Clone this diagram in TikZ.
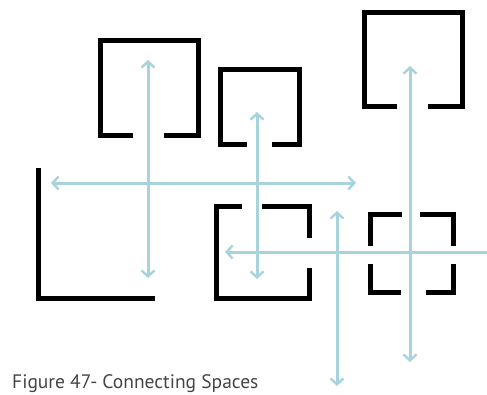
\documentclass[tikz,border=0pt]{standalone}
\usepackage{fontspec}
\setsansfont{PT Sans}
\usetikzlibrary{arrows.meta}
\definecolor{linkblue}{HTML}{A9D3DC}
\definecolor{captiongray}{HTML}{454545}
\tikzset{
  wall/.style={line width=5pt, black, line cap=butt, line join=miter},
  link/.style={line width=3pt, linkblue, line cap=butt},
  biarrow/.style={link, {Straight Barb[length=6pt,width=13pt,line width=2.4pt]}-{Straight Barb[length=6pt,width=13pt,line width=2.4pt]}},
  onearrow/.style={link, {Straight Barb[length=6pt,width=13pt,line width=2.4pt]}-},
}
\begin{document}
\begin{tikzpicture}[x=1pt,y=-1pt]
\useasboundingbox (0,0) rectangle (487,394);

% open rooms
\draw[wall] (133,135) -- (100,135) -- (100,40) -- (198,40) -- (198,135) -- (164,135);
\draw[wall] (247,144) -- (220,144) -- (220,69) -- (299,69) -- (299,144) -- (272,144);
\draw[wall] (397,106) -- (364,106) -- (364,12) -- (462,12) -- (462,106) -- (428,106);

% corner wall
\draw[wall] (38,168) -- (38,298) -- (155,298);

% room with two openings
\draw[wall] (242,206) -- (216,206) -- (216,298) -- (309,298) -- (309,268);
\draw[wall] (262,206) -- (309,206) -- (309,238);

% room of four corners
\draw[wall] (370,246) -- (370,214) -- (402,214);
\draw[wall] (420,214) -- (453,214) -- (453,246);
\draw[wall] (370,264) -- (370,292) -- (401,292);
\draw[wall] (426,292) -- (453,292) -- (453,264);

% connections
\coordinate (a1) at (148,60);  \coordinate (a2) at (148,278);
\coordinate (b1) at (51,183);  \coordinate (b2) at (356,183);
\coordinate (c1) at (257,112); \coordinate (c2) at (257,279);
\coordinate (d1) at (410,66);  \coordinate (d2) at (410,362);
\coordinate (e1) at (337,211); \coordinate (e2) at (337,386);
\coordinate (f1) at (225,252); \coordinate (f2) at (487,252);

\draw[biarrow] (a1) -- (a2);
\draw[biarrow] (b1) -- (b2);
\draw[biarrow] (c1) -- (c2);
\draw[onearrow] (f1) -- (f2);
\draw[biarrow] (d1) -- (d2);
\draw[biarrow] (e1) -- (e2);

\node[anchor=base west, inner sep=0pt, text=captiongray, font=\sffamily\fontsize{19.5}{22}\selectfont] (cap) at (12,388) {Figure 47- Connecting Spaces};
\end{tikzpicture}
\end{document}
